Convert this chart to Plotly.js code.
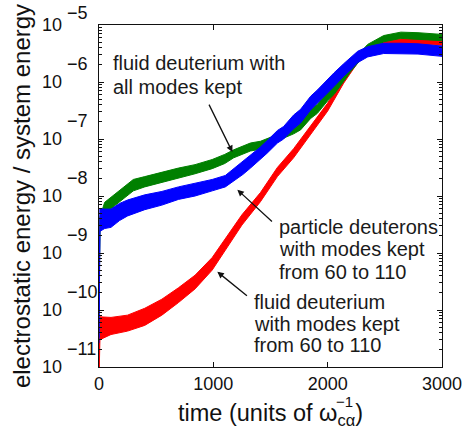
<!DOCTYPE html>
<html>
<head>
<meta charset="utf-8">
<script src="https://cdn.plot.ly/plotly-3.0.1.min.js"></script>
<style>html,body{margin:0;padding:0;background:#fff;}#chart{width:471px;height:435px;}</style>
</head>
<body>
<div id="chart"></div>
<script>
// time values (units of 1/omega_c_alpha) and log10(energy ratio)
const redT = [0, 8, 105, 250, 400, 550, 695, 840, 990, 1105, 1250, 1412, 1560, 1702, 1851, 2000, 2140, 2263, 2377, 2490, 2640, 2790, 3000];
const redLog = [-11.2, -10.32, -10.28, -10.23, -10.12, -9.95, -9.74, -9.51, -9.19, -8.84, -8.42, -8.02, -7.58, -7.25, -6.84, -6.44, -5.96, -5.61, -5.40, -5.31, -5.29, -5.29, -5.31];
const redSpread = [0.05, 0.2, 0.15, 0.14, 0.15, 0.14, 0.13, 0.12, 0.11, 0.1, 0.09, 0.08, 0.08, 0.08, 0.07, 0.07, 0.06, 0.05, 0.05, 0.045, 0.045, 0.045, 0.045];

const greenT = [0, 8, 50, 105, 180, 250, 300, 400, 550, 695, 840, 990, 1100, 1178, 1325, 1412, 1500, 1561, 1615, 1702, 1763, 1851, 1910, 2000, 2055, 2140, 2200, 2263, 2350, 2490, 2640, 2790, 3000];
const greenLog = [-10.0, -8.5, -8.21, -8.12, -8.00, -7.89, -7.81, -7.75, -7.67, -7.60, -7.53, -7.44, -7.35, -7.26, -7.14, -7.11, -7.04, -6.96, -6.91, -6.84, -6.77, -6.56, -6.47, -6.25, -6.14, -5.91, -5.75, -5.60, -5.40, -5.24, -5.18, -5.19, -5.22];
const greenSpread = [0.05, 0.13, 0.1, 0.1, 0.1, 0.1, 0.1, 0.09, 0.09, 0.09, 0.08, 0.08, 0.08, 0.07, 0.07, 0.07, 0.07, 0.07, 0.07, 0.07, 0.07, 0.08, 0.08, 0.08, 0.08, 0.08, 0.07, 0.07, 0.06, 0.055, 0.055, 0.055, 0.055];

const blueT = [0, 8, 50, 105, 180, 250, 400, 550, 695, 840, 990, 1105, 1178, 1260, 1325, 1412, 1470, 1561, 1615, 1702, 1763, 1851, 1910, 2000, 2055, 2140, 2200, 2263, 2350, 2490, 2640, 2790, 3000];
const blueLog = [-10.53, -8.42, -8.40, -8.39, -8.28, -8.21, -8.11, -8.04, -7.95, -7.89, -7.81, -7.74, -7.63, -7.51, -7.40, -7.25, -7.14, -6.96, -6.89, -6.70, -6.60, -6.37, -6.26, -6.07, -5.96, -5.79, -5.68, -5.56, -5.47, -5.41, -5.41, -5.42, -5.46];
const blueSpread = [0.05, 0.2, 0.17, 0.16, 0.15, 0.14, 0.13, 0.12, 0.11, 0.11, 0.1, 0.1, 0.11, 0.11, 0.11, 0.11, 0.11, 0.11, 0.11, 0.12, 0.12, 0.12, 0.12, 0.12, 0.12, 0.11, 0.11, 0.1, 0.09, 0.09, 0.09, 0.09, 0.09];

const xTicks = [0, 1000, 2000, 3000];
const yTickPow = [-11, -10, -9, -8, -7, -6, -5];
const labelGreen = ["fluid deuterium with", "all modes kept"];
const labelBlue = ["particle deuterons", "with modes kept", "from 60 to 110"];
const labelRed = ["fluid deuterium", "with modes kept", "from 60 to 110"];

function band(t, c, s, color) {
  const x = t.concat(t.slice().reverse());
  const hi = c.map((v, i) => Math.pow(10, v + s[i]));
  const lo = c.map((v, i) => Math.pow(10, v - s[i]));
  const y = hi.concat(lo.slice().reverse());
  return {x: x, y: y, type: 'scatter', mode: 'lines', fill: 'toself', fillcolor: color,
          line: {color: color, width: 1}, hoverinfo: 'skip', showlegend: false};
}

const traces = [
  band(redT, redLog, redSpread, '#ff0000'),
  band(greenT, greenLog, greenSpread, '#008000'),
  band(blueT, blueLog, blueSpread, '#0000ff')
];

const F = 'Liberation Sans, Arial, Helvetica, sans-serif';
const annos = [];
function textLines(lines, x, ys) {
  lines.forEach((s, i) => annos.push({xref: 'paper', yref: 'paper', x: x, y: ys[i], xanchor: 'left', yanchor: 'middle',
    text: s, showarrow: false, font: {family: F, size: 20, color: '#1a1a1a'}}));
}
textLines(labelGreen, 0.035, [0.889, 0.819]);
textLines(labelBlue, 0.52, [0.409, 0.345, 0.278]);
textLines(labelRed, 0.447, [0.190, 0.126, 0.064]);

function arrow(hx, hy, tx, ty) {
  annos.push({xref: 'x', yref: 'y', axref: 'x', ayref: 'y', x: hx, y: hy, ax: tx, ay: ty, text: '',
    showarrow: true, arrowhead: 2, arrowsize: 1, arrowwidth: 1.3, arrowcolor: '#111', standoff: 0});
}
arrow(1167, -7.23, 956, -6.37);
arrow(1210, -7.89, 1526, -8.47);
arrow(1035, -9.33, 1307, -9.77);

// exponents of the y tick labels (10 with a raised power, as in the figure)
const yMin = yTickPow[0], yMax = yTickPow[yTickPow.length - 1];
yTickPow.forEach(p => annos.push({xref: 'paper', yref: 'paper', x: -0.097,
  y: Math.min((p - yMin) / (yMax - yMin) + 0.052, 1.036),
  xanchor: 'left', yanchor: 'middle', borderpad: 0,
  text: '−' + Math.abs(p), showarrow: false, font: {family: F, size: 18, color: '#111'}}));

// superscript of the x-axis title unit, stacked over the subscript
annos.push({xref: 'paper', yref: 'paper', x: 0.717, y: -0.1, xanchor: 'center', yanchor: 'middle', borderpad: 0,
  text: '−1', showarrow: false, font: {family: F, size: 15, color: '#111'}});

const layout = {
  width: 471, height: 435,
  margin: {l: 99, r: 29, t: 25, b: 68},
  paper_bgcolor: '#fff', plot_bgcolor: '#fff',
  font: {family: F, color: '#111'},
  showlegend: false,
  xaxis: {
    range: [0, 3000], tickvals: xTicks, ticks: 'inside', ticklen: 5, tickwidth: 1, tickcolor: '#111',
    showline: true, linecolor: '#111', linewidth: 1.3, mirror: 'ticks', showgrid: false, zeroline: false,
    tickfont: {family: F, size: 18, color: '#111'},
    title: {text: 'time (units of ω<sub>cα</sub>)', font: {family: F, size: 23.5, color: '#111'}, standoff: 11}
  },
  yaxis: {
    type: 'log', range: [yMin, yMax], tickvals: yTickPow.map(p => Math.pow(10, p)), ticktext: yTickPow.map(() => '10'),
    ticklabelstandoff: 32,
    ticks: 'inside', ticklen: 5, tickwidth: 1, tickcolor: '#111',
    minor: {ticks: 'inside', ticklen: 3, tickcolor: '#111', dtick: 'D1', showgrid: false},
    showline: true, linecolor: '#111', linewidth: 1.3, mirror: 'ticks', showgrid: false, zeroline: false,
    tickfont: {family: F, size: 18, color: '#111'},
    title: {text: 'electrostatic energy / system energy', font: {family: F, size: 24, color: '#111'}, standoff: 4}
  },
  annotations: annos
};

Plotly.newPlot('chart', traces, layout, {displayModeBar: false, staticPlot: true});
</script>
</body>
</html>
